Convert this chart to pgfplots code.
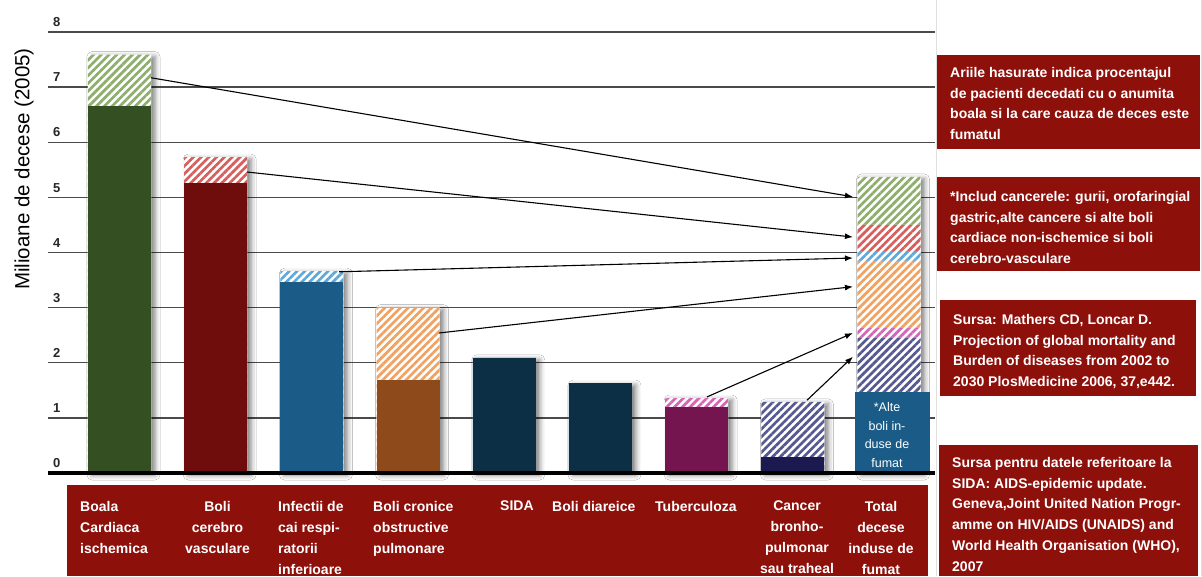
\documentclass[border=0pt]{standalone}
\usepackage{fontspec}
\setmainfont{Liberation Sans}
\usepackage{pgfplots}
\pgfplotsset{compat=1.18}
\usetikzlibrary{patterns.meta,arrows.meta,shadows.blur}

% bar colours: solid part and hatched (smoking-attributable) part
\definecolor{gsolid}{HTML}{344F22}
\definecolor{ghatch}{HTML}{8DAE6C}
\definecolor{rsolid}{HTML}{6F0D0C}
\definecolor{rhatch}{HTML}{D65E5C}
\definecolor{bsolid}{HTML}{1A5B87}
\definecolor{bhatch}{HTML}{5FA8DA}
\definecolor{osolid}{HTML}{8E4A1B}
\definecolor{ohatch}{HTML}{F0A262}
\definecolor{navy}{HTML}{0D2F45}
\definecolor{tsolid}{HTML}{741550}
\definecolor{thatch}{HTML}{D466B3}
\definecolor{csolid}{HTML}{1C1850}
\definecolor{chatch}{HTML}{56598F}
\definecolor{boxred}{HTML}{8E100B}
\definecolor{gridc}{HTML}{4A4A4A}

\pgfplotsset{
  seg/.style={ybar, bar width=63pt, bar shift=0pt, draw=none, forget plot},
  solidbar/.style={seg, fill=#1},
  hatchbar/.style={seg, preaction={fill=white},
    pattern={Lines[angle=45,distance=5.5pt,line width=2.7pt]}, pattern color=#1},
  arrowline/.style={black, line width=1.1pt, mark=none, forget plot,
    -{Latex[length=8pt,width=6pt]}},
}

\newcommand{\catfont}{\bfseries\fontsize{14}{21}\selectfont}
\newcommand{\notefont}{\bfseries\fontsize{14}{20.8}\selectfont}

\begin{document}
\begin{tikzpicture}
\fill[white] (0,0) rectangle (1202pt,576pt);
\path[use as bounding box] (0,0) rectangle (1202pt,576pt);

\begin{axis}[
  at={(48pt,103pt)}, anchor=south west,
  scale only axis, width=887pt, height=441pt,
  xmin=-0.7433, xmax=8.478, ymin=0, ymax=8,
  axis line style={draw=none},
  xtick=\empty, ytick={0,1,...,8},
  major tick length=0pt,
  ymajorgrids, grid style={line width=1.3pt, color=gridc},
  /pgf/number format/assume math mode=true,
  yticklabel style={anchor=south west, inner sep=0pt, xshift=5pt, yshift=5pt,
    font=\bfseries\fontsize{13}{13}\selectfont, text=black!85},
  clip=false,
]
% soft shadows behind every column
\addplot[seg, fill=white, blur shadow={shadow xshift=4pt, shadow yshift=-2pt,
  shadow blur radius=5pt, shadow opacity=50}]
  coordinates {(0,7.59) (1,5.73) (2,3.66) (3,3.00) (4,2.09) (5,1.63) (6,1.36) (7,1.29) (8,5.37)};

% hatched parts (full heights, drawn tallest first)
\addplot[hatchbar=ghatch] coordinates {(0,7.59) (8,5.37)};
\addplot[hatchbar=rhatch] coordinates {(1,5.73) (8,4.50)};
\addplot[hatchbar=bhatch] coordinates {(2,3.66) (8,4.01)};
\addplot[hatchbar=ohatch] coordinates {(3,3.00) (8,3.85)};
\addplot[hatchbar=thatch] coordinates {(6,1.36) (8,2.63)};
\addplot[hatchbar=chatch] coordinates {(7,1.29) (8,2.45)};

% solid parts
\addplot[solidbar=gsolid] coordinates {(0,6.66)};
\addplot[solidbar=rsolid] coordinates {(1,5.26)};
\addplot[solidbar=bsolid] coordinates {(2,3.47)};
\addplot[solidbar=osolid] coordinates {(3,1.69)};
\addplot[solidbar=navy]   coordinates {(4,2.09) (5,1.63)};
\addplot[solidbar=tsolid] coordinates {(6,1.20)};
\addplot[solidbar=csolid] coordinates {(7,0.29)};
% other smoking-induced diseases
\addplot[solidbar=bsolid, bar width=75pt, bar shift=3.5pt] coordinates {(8,1.47)};
\node[text=white, align=center, font=\fontsize{12.5}{18.7}\selectfont]
  at (axis cs:7.979,0.69) {*Alte\\boli in-\\duse de\\fumat};

% arrows from each hatched share to the total column
\addplot[arrowline] coordinates {(0.327,7.17) (7.625,5.01)};
\addplot[arrowline] coordinates {(1.326,5.46) (7.625,4.28)};
\addplot[arrowline] coordinates {(2.284,3.65) (7.625,3.90)};
\addplot[arrowline] coordinates {(3.321,2.54) (7.625,3.38)};
\addplot[arrowline] coordinates {(6.107,1.38) (7.625,2.54)};
\addplot[arrowline] coordinates {(7.147,1.32) (7.625,2.11)};

\draw[line width=4pt, black] (axis cs:-0.7433,0) -- (axis cs:8.478,0);
\end{axis}

% y axis title
\node[rotate=90, font=\fontsize{20.5}{20.5}\selectfont, text=black]
  at (24pt,407pt) {Milioane de decese (2005)};

% category band
\fill[boxred] (67pt,0pt) rectangle (928pt,91pt);
\begin{scope}[every node/.style={text=white, font=\catfont, inner sep=0pt}]
\node[anchor=north west, align=left]   at (80pt,75pt)    {Boala\\Cardiaca\\ischemica};
\node[anchor=north, align=center]      at (217.5pt,75pt) {Boli\\cerebro\\vasculare};
\node[anchor=north west, align=left]   at (278pt,75pt)   {Infectii de\\cai respi-\\ratorii\\inferioare};
\node[anchor=north west, align=left]   at (373pt,75pt)   {Boli cronice\\obstructive\\pulmonare};
\node[anchor=north west, align=left]   at (500pt,75pt)   {SIDA};
\node[anchor=north west, align=left]   at (552pt,75pt)   {Boli diareice};
\node[anchor=north west, align=left]   at (655pt,75pt)   {Tuberculoza};
\node[anchor=north, align=center]      at (797pt,75pt)   {Cancer\\bronho-\\pulmonar\\sau traheal};
\node[anchor=north, align=center]      at (881pt,75pt)   {Total\\decese\\induse de\\fumat};
\end{scope}

% notes panel
\draw[gray!25, line width=0.8pt] (936pt,0pt) -- (936pt,576pt);
\draw[gray!25, line width=0.8pt] (1201pt,0pt) -- (1201pt,576pt);
\fill[boxred] (937pt,427pt) rectangle (1200pt,521pt);
\fill[boxred] (937pt,305pt) rectangle (1200pt,399pt);
\fill[boxred] (940pt,180pt) rectangle (1196pt,276pt);
\fill[boxred] (939pt,0pt)   rectangle (1198pt,131pt);
\begin{scope}[every node/.style={text=white, font=\notefont, inner sep=0pt, anchor=north west, align=left}]
\node at (950pt,509pt) {Ariile hasurate indica procentajul\\de pacienti decedati cu o anumita\\boala si la care cauza de deces este\\fumatul};
\node at (950pt,385pt) {*Includ cancerele: gurii, orofaringial\\gastric,alte cancere si alte boli\\cardiace non-ischemice si boli\\cerebro-vasculare};
\node at (953pt,262pt) {Sursa: Mathers CD, Loncar D.\\Projection of global mortality and\\Burden of diseases from 2002 to\\2030 PlosMedicine 2006, 37,e442.};
\node at (952pt,119pt) {Sursa pentru datele referitoare la\\SIDA: AIDS-epidemic update.\\Geneva,Joint United Nation Progr-\\amme on HIV/AIDS (UNAIDS) and\\World Health Organisation (WHO),\\2007};
\end{scope}
\end{tikzpicture}
\end{document}
